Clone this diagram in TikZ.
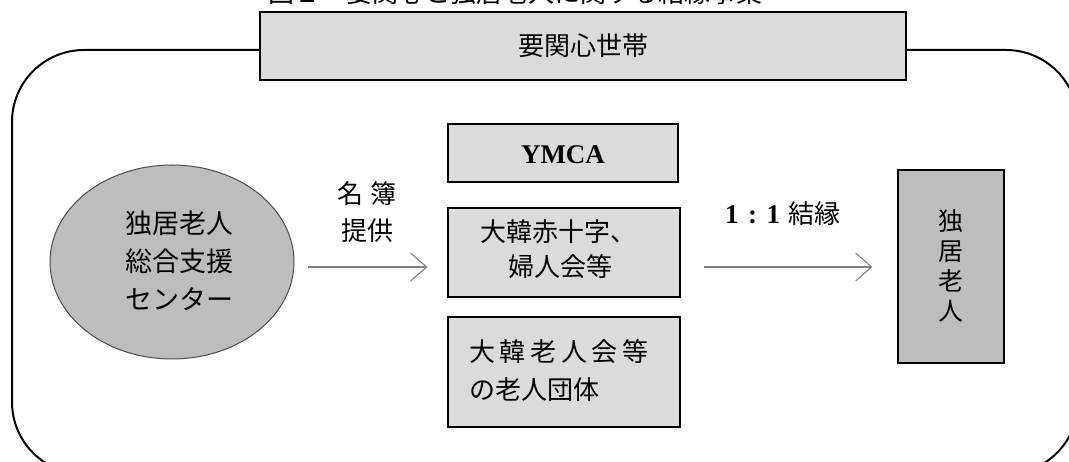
\documentclass[tikz,border=0pt]{standalone}
\usepackage{fontspec}
\usetikzlibrary{arrows.meta,shapes.geometric}
\newfontfamily\jp{Noto Sans CJK JP}
\newfontfamily\ser{Liberation Serif}
\definecolor{boxgray}{gray}{0.86}
\definecolor{darkgray2}{gray}{0.74}
\definecolor{arrowgray}{gray}{0.5}
\tikzset{
  box/.style={draw=black, line width=1.1pt, fill=boxgray, inner sep=0pt},
  darkbox/.style={box, fill=darkgray2},
  jptext/.style={font=\jp\fontsize{26}{37}\selectfont, inner sep=0pt},
  flow/.style={draw=arrowgray, line width=1.4pt, -{Straight Barb[length=16pt,width=28pt,line width=1.1pt]}},
  frame/.style={draw=black, line width=2pt, rounded corners=72pt},
}
\begin{document}
\begin{tikzpicture}[x=1pt,y=-1pt]
\useasboundingbox (0,0) rectangle (1069,462);
\clip (0,0) rectangle (1069,462);
% caption (cut off at top)
\node[jptext, anchor=base] (cap) at (515,3) {図１　要関心と独居老人に関する結縁事業};
% outer frame
\draw[frame] (12,50) rectangle (1078,474);
% banner
\node[box, minimum width=646pt, minimum height=68pt] (banner) at (583,46) {};
\node[jptext] (bannertxt) at (583,46) {要関心世帯};
% ellipse
\node[ellipse, draw=gray!60!black, line width=1pt, fill=darkgray2, minimum width=244pt, minimum height=194pt, inner sep=0pt] (ell) at (172,262) {};
\node[jptext, align=center, font=\jp\fontsize{27}{38}\selectfont] (elltxt) at (179,261) {独居老人\\総合支援\\センター};
% label 1
\node[jptext, align=center] (lab1) at (367,212) {名\hspace{0.25em}簿\\提供};
% boxes
\node[box, minimum width=230pt, minimum height=58pt] (ymca) at (563,153) {};
\node[font=\ser\bfseries\fontsize{27}{27}\selectfont, inner sep=0pt] (ymcatxt) at (563,155) {YMCA};
\node[box, minimum width=232pt, minimum height=89pt] (mid) at (564,252.5) {};
\node[jptext, anchor=west] (mid1) at (480,232) {大韓赤十字、};
\node[jptext, anchor=west] (mid2) at (508,267) {婦人会等};
\node[box, minimum width=232pt, minimum height=110pt] (bot) at (564,372) {};
\node[jptext, anchor=west] (bot1) at (469,352) {大\hspace{0.18em}韓\hspace{0.18em}老\hspace{0.18em}人\hspace{0.18em}会\hspace{0.18em}等};
\node[jptext, anchor=west] (bot2) at (469,390) {の老人団体};
% label 2
\node[inner sep=0pt, anchor=west] (lab2) at (725,214) {{\ser\bfseries\fontsize{27}{27}\selectfont 1\hspace{0.35em}:\hspace{0.35em}1}\hspace{8pt}{\jp\fontsize{26}{26}\selectfont 結縁}};
% right box
\node[darkbox, minimum width=106pt, minimum height=193pt] (elder) at (951,266.5) {};
\node[jptext, align=center, font=\jp\fontsize{25}{30}\selectfont] (eldertxt) at (951,266) {独\\居\\老\\人};
% arrows
\draw[flow] ([shift={(13,5)}]ell.east) -- ([shift={(-20,14.5)}]mid.west);
\draw[flow] ([shift={(23,14.5)}]mid.east) -- ([shift={(-25,0.5)}]elder.west);
\end{tikzpicture}
\end{document}
